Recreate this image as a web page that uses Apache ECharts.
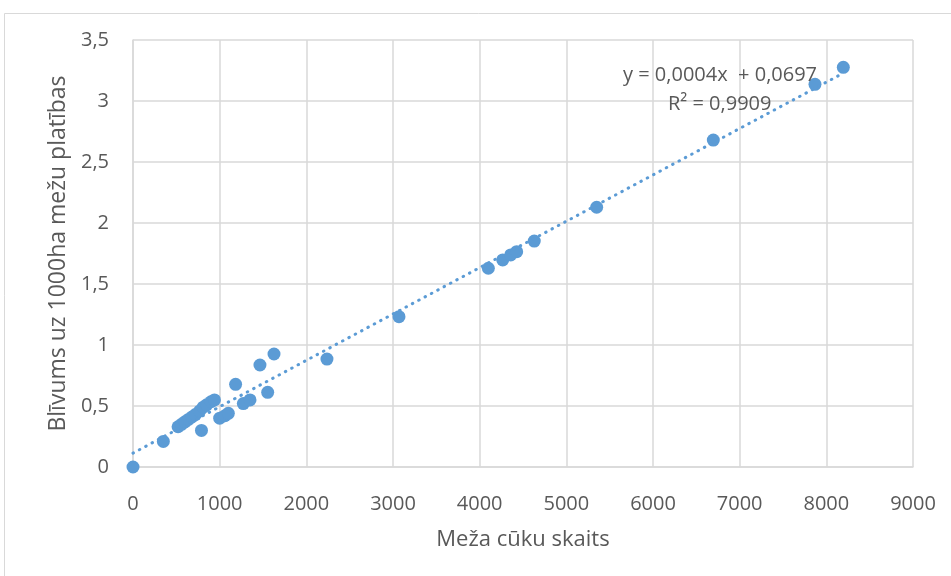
<!DOCTYPE html>
<html>
<head>
<meta charset="utf-8">
<script src="https://cdn.jsdelivr.net/npm/echarts@6/dist/echarts.min.js"></script>
<style>
html,body{margin:0;padding:0;background:#fff;}
#c{width:951px;height:576px;}
</style>
</head>
<body>
<div id="c"></div>
<script>
// Data
var xValues = [0, 350, 520, 560, 600, 640, 680, 720, 770, 810, 850, 900, 940, 790, 1000, 1060, 1100, 1184, 1273, 1350, 1554, 1465, 1627, 2238, 3069, 4100, 4266, 4358, 4427, 4630, 5350, 6696, 7869, 8196];
var yValues = [0, 0.21, 0.33, 0.35, 0.37, 0.39, 0.41, 0.43, 0.46, 0.49, 0.51, 0.535, 0.55, 0.30, 0.40, 0.42, 0.44, 0.678, 0.52, 0.55, 0.612, 0.836, 0.926, 0.885, 1.232, 1.629, 1.697, 1.738, 1.765, 1.852, 2.129, 2.68, 3.137, 3.276];
var xTicks = [0, 1000, 2000, 3000, 4000, 5000, 6000, 7000, 8000, 9000];
var yTicks = [0, 0.5, 1, 1.5, 2, 2.5, 3, 3.5];
var xTitle = 'Meža cūku skaits';
var yTitle = 'Blīvums uz 1000ha mežu platības';
var equationLines = ['y = 0,0004x  + 0,0697', 'R² = 0,9909'];

var points = xValues.map(function (x, i) { return [x, yValues[i]]; });

// Least-squares linear trendline (like Excel), spanning the data range
var n = xValues.length, sx = 0, sy = 0, sxx = 0, sxy = 0;
for (var i = 0; i < n; i++) { sx += xValues[i]; sy += yValues[i]; sxx += xValues[i]*xValues[i]; sxy += xValues[i]*yValues[i]; }
var slope = (n*sxy - sx*sy) / (n*sxx - sx*sx);
var intercept = (sy - slope*sx) / n;
var xMin = Math.min.apply(null, xValues), xMax = Math.max.apply(null, xValues);
var trend = [[xMin, intercept + slope*xMin], [xMax, intercept + slope*xMax]];

var FONT = "'Open Sans', 'Noto Sans', sans-serif";
var TXT = '#595959';
var GRID = '#d9d9d9';
var BLUE = '#5b9bd5';

var chart = echarts.init(document.getElementById('c'), null, {renderer: 'canvas'});
chart.setOption({
  animation: false,
  backgroundColor: '#ffffff',
  grid: {left: 133, right: 38, top: 40, bottom: 109, containLabel: false},
  xAxis: {
    type: 'value', min: xTicks[0], max: xTicks[xTicks.length-1], interval: xTicks[1]-xTicks[0],
    name: xTitle, nameLocation: 'middle', nameGap: 62,
    nameTextStyle: {fontFamily: FONT, fontSize: 22, color: TXT},
    axisLine: {show: true, lineStyle: {color: GRID, width: 1.5}},
    axisTick: {show: false},
    axisLabel: {fontFamily: FONT, fontSize: 20, color: TXT, margin: 27,
      formatter: function (v) { return String(v); }},
    splitLine: {show: true, lineStyle: {color: GRID, width: 1.5}}
  },
  yAxis: {
    type: 'value', min: yTicks[0], max: yTicks[yTicks.length-1], interval: yTicks[1]-yTicks[0],
    name: yTitle, nameLocation: 'middle', nameGap: 58, nameRotate: 90,
    nameTextStyle: {fontFamily: FONT, fontSize: 23, color: TXT},
    axisLine: {show: true, lineStyle: {color: GRID, width: 1.5}},
    axisTick: {show: false},
    axisLabel: {fontFamily: FONT, fontSize: 20, color: TXT, margin: 24,
      formatter: function (v) { return String(v).replace('.', ','); }},
    splitLine: {show: true, lineStyle: {color: GRID, width: 1.5}}
  },
  series: [
    {
      type: 'scatter', data: points, symbol: 'circle', symbolSize: 13,
      itemStyle: {color: BLUE, opacity: 1}, z: 2
    },
    {
      type: 'line', data: trend, symbol: 'none', silent: true, z: 3,
      lineStyle: {color: BLUE, width: 3, type: [0.5, 6.7], cap: 'round'}
    }
  ],
  graphic: [
    {type: 'rect', silent: true, z: -1,
      shape: {x: 4.5, y: 13.5, width: 1000, height: 700},
      style: {fill: 'none', stroke: GRID, lineWidth: 1}},
    {type: 'text', left: 623, top: 65, z: 10,
      style: {text: equationLines[0], font: '20px ' + FONT, fill: TXT}},
    {type: 'text', left: 668, top: 94, z: 10,
      style: {text: equationLines[1], font: '20px ' + FONT, fill: TXT}}
  ]
});
</script>
</body>
</html>
